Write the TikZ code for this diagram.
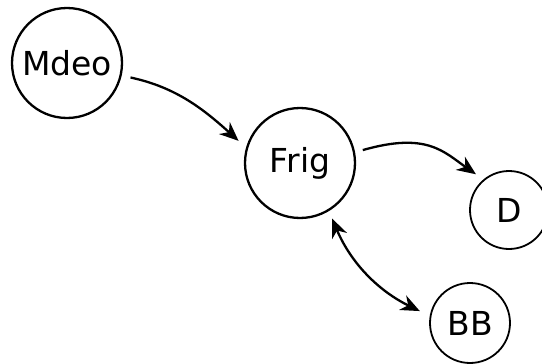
\documentclass[tikz,border=0pt]{standalone}
\usepackage{fontspec}
\setmainfont{DejaVu Sans}
\usetikzlibrary{arrows.meta}
\begin{document}
\begin{tikzpicture}[x=0.5pt,y=-0.5pt,
  state/.style={circle,draw,line width=1.15pt,inner sep=0pt,font=\fontsize{16.5}{18}\selectfont},
  small/.style={state,line width=0.9pt},
  tip/.tip={Stealth[length=9.5pt,width=8pt,inset=3pt]},
  link/.style={line width=1.15pt,-tip}]
\useasboundingbox (0,0) rectangle (542,364);
\node[state,minimum size=55pt] (mdeo) at (67,63) {Mdeo};
\node[state,minimum size=55pt] (frig) at (300,163) {Frig};
\node[small,minimum size=39pt] (d) at (509,210) {D};
\node[small,minimum size=40pt] (bb) at (470,323) {BB};
\draw[link,shorten <=4.5pt,shorten >=5pt] (mdeo.-13) to[out=-12,in=138] (frig.164);
\draw[link,shorten <=4pt,shorten >=4.5pt] (frig.11) to[out=16,in=145,out looseness=1.45,in looseness=0.95] (d.130);
\draw[link,tip-tip,shorten <=4pt,shorten >=5.5pt] (frig.-59) to[out=-67,in=154] (bb.170);
\end{tikzpicture}
\end{document}
